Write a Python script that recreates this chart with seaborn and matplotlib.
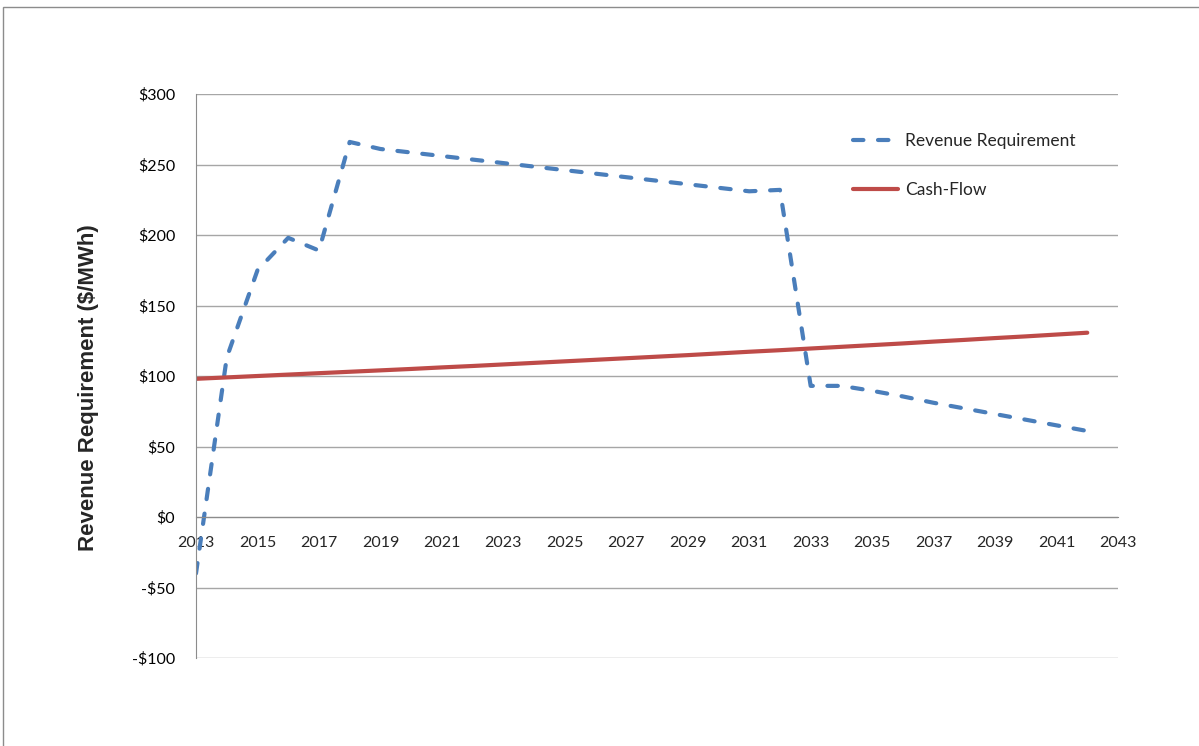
import pandas as pd
import matplotlib
matplotlib.use("Agg")
import matplotlib.pyplot as plt
from matplotlib.patches import Rectangle
from matplotlib.ticker import FuncFormatter, MultipleLocator
import seaborn as sns

# Values ($/MWh), one per year
years = list(range(2013, 2043))
revenue_requirement = [
    -40, 113, 175, 198, 189, 266, 261, 258.5, 256, 253.5,
    251, 248.5, 246, 243.5, 241, 238.5, 236, 233.5, 231, 232,
    93, 93, 89.5, 85.5, 81, 77, 73, 69, 65, 61,
]
cash_flow = [
    98.0, 99.0, 100.0, 101.0, 102.0, 103.0, 104.0, 105.0, 106.1, 107.1,
    108.2, 109.3, 110.4, 111.5, 112.6, 113.7, 114.8, 116.0, 117.2, 118.3,
    119.5, 120.7, 121.9, 123.1, 124.4, 125.6, 126.9, 128.1, 129.4, 130.7,
]
y_ticks = [-100, -50, 0, 50, 100, 150, 200, 250, 300]
x_ticks = list(range(2013, 2044, 2))

df = pd.DataFrame({"Year": years,
                   "Revenue Requirement": revenue_requirement,
                   "Cash-Flow": cash_flow})

sns.set_style("white")
plt.rcParams["font.family"] = ["Lato", "DejaVu Sans"]

fig = plt.figure(figsize=(11.99, 7.46), dpi=100)
ax = fig.add_axes([196 / 1199, 1 - 658 / 746, 922 / 1199, 564 / 746])

# outer chart frame (cropped at right and bottom)
fig.patches.append(Rectangle((3 / 1199, -0.05), 1.2, 1.05 - 7 / 746,
                             transform=fig.transFigure, fill=False,
                             edgecolor="#8c8c8c", lw=1.0))

blue = "#4a7ebb"
red = "#be4b48"
sns.lineplot(data=df, x="Year", y="Revenue Requirement", ax=ax,
             color=blue, lw=3.0, label="Revenue Requirement")
ax.lines[-1].set_dashes((2.5, 3.5))
ax.lines[-1].set_dash_capstyle("round")
sns.lineplot(data=df, x="Year", y="Cash-Flow", ax=ax,
             color=red, lw=3.0, label="Cash-Flow")

ax.set_xlim(2013, 2043)
ax.set_ylim(-100, 300)
ax.set_yticks(y_ticks)
ax.set_xticks(x_ticks)
ax.xaxis.set_minor_locator(MultipleLocator(1))
ax.yaxis.set_major_formatter(FuncFormatter(
    lambda v, p: f"-${abs(v):.0f}" if v < 0 else f"${v:.0f}"))

ax.grid(axis="y", color="#a6a6a6", lw=1.0)
ax.set_axisbelow(True)
for s in ["top", "right"]:
    ax.spines[s].set_visible(False)
ax.spines["left"].set_color("#8c8c8c")
ax.spines["bottom"].set_color("#8c8c8c")
ax.spines["bottom"].set_position(("data", 0))

ax.tick_params(axis="y", length=0, pad=15, labelsize=11.5, colors="black")
ax.tick_params(axis="x", which="both", direction="out", length=5,
               color="#8c8c8c", labelsize=11.5, pad=9)

ax.set_xlabel("")
ax.set_ylabel("Revenue Requirement ($/MWh)", fontsize=16, fontweight="bold",
              family=["Liberation Sans", "DejaVu Sans"])
ax.yaxis.set_label_coords(-0.105, 0.479)

leg = ax.legend(loc="upper left", bbox_to_anchor=(0.7126, 0.93), frameon=False,
                fontsize=12.5, handlelength=2.6, handletextpad=0.4,
                labelspacing=1.85, borderaxespad=0, borderpad=0)

fig.savefig("out.png", dpi=100)
